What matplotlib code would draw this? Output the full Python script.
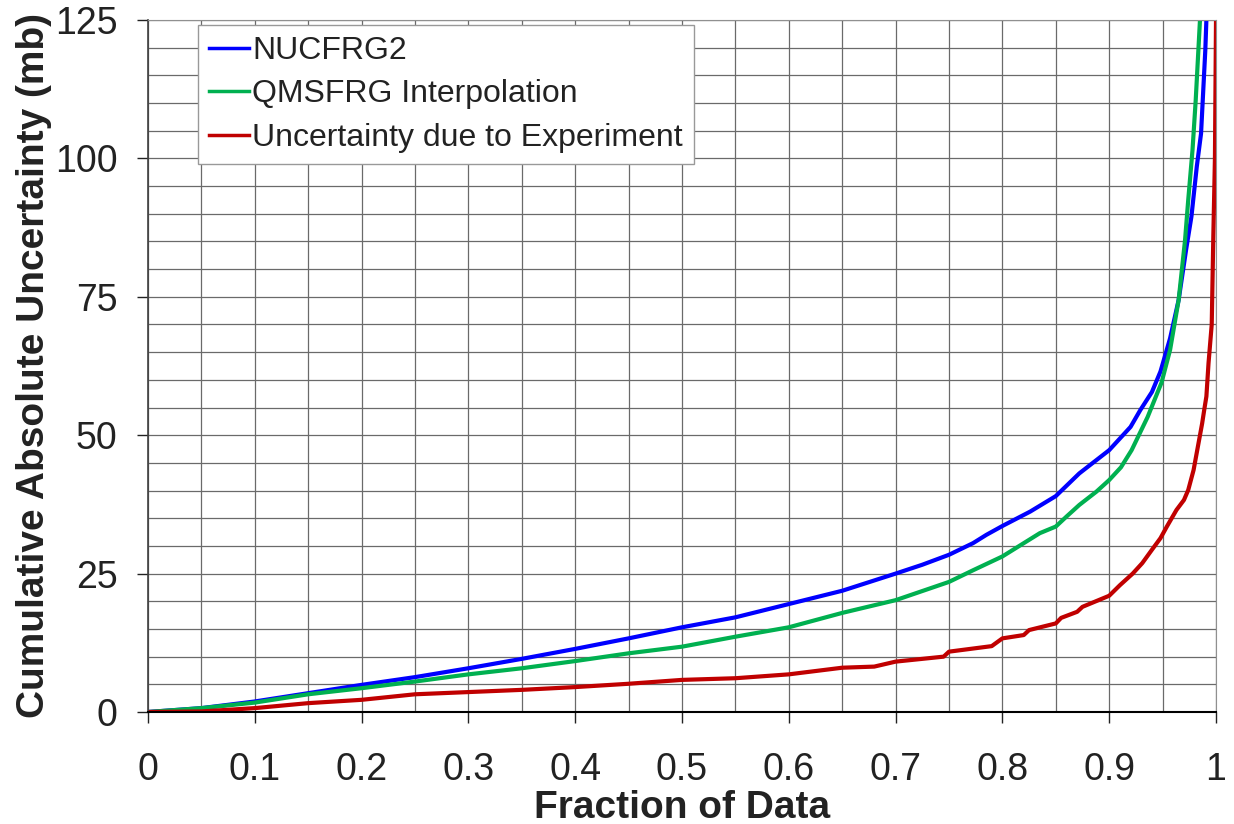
import numpy as np
import matplotlib
matplotlib.use("Agg")
import matplotlib.pyplot as plt
from matplotlib.ticker import MultipleLocator

plt.rcParams['font.family'] = ['Liberation Sans', 'DejaVu Sans']

# NUCFRG2
nuc_x = [0, 0.05, 0.1, 0.15, 0.2, 0.25, 0.3, 0.35, 0.4, 0.45, 0.5, 0.55, 0.6, 0.65,
         0.7, 0.725, 0.75, 0.7725, 0.785, 0.8, 0.826, 0.85, 0.872, 0.9, 0.92, 0.929,
         0.94, 0.948, 0.957, 0.965, 0.972, 0.977, 0.982, 0.986, 0.99, 0.991]
nuc_y = [0, 0.7, 1.9, 3.4, 4.9, 6.3, 7.9, 9.6, 11.4, 13.3, 15.3, 17.1, 19.5, 21.9,
         25.0, 26.6, 28.4, 30.5, 32.0, 33.6, 36.2, 39.0, 43.1, 47.3, 51.5, 54.5,
         57.8, 61.5, 67.5, 74.4, 83.5, 89.5, 98.5, 104.5, 119.6, 125]

# QMSFRG Interpolation
qms_x = [0, 0.05, 0.1, 0.15, 0.2, 0.25, 0.3, 0.35, 0.4, 0.45, 0.5, 0.55, 0.6, 0.65,
         0.7, 0.75, 0.7725, 0.8, 0.82, 0.835, 0.85, 0.86, 0.872, 0.888, 0.9, 0.911,
         0.921, 0.936, 0.949, 0.957, 0.965, 0.971, 0.974, 0.978, 0.981, 0.985]
qms_y = [0, 0.7, 1.7, 3.2, 4.3, 5.5, 6.8, 7.9, 9.2, 10.6, 11.8, 13.6, 15.3, 17.9,
         20.2, 23.5, 25.6, 28.1, 30.5, 32.3, 33.5, 35.3, 37.4, 39.8, 41.9, 44.2,
         47.3, 53.3, 59.5, 65.4, 74.4, 85.2, 92.5, 101.5, 110.5, 125]

# Uncertainty due to Experiment
exp_x = [0, 0.05, 0.1, 0.15, 0.2, 0.25, 0.3, 0.35, 0.4, 0.45, 0.5, 0.55, 0.6, 0.65,
         0.68, 0.7, 0.745, 0.75, 0.79, 0.8, 0.82, 0.825, 0.85, 0.855, 0.87, 0.875,
         0.9, 0.91, 0.922, 0.931, 0.94, 0.948, 0.954, 0.963, 0.97, 0.974, 0.979,
         0.983, 0.987, 0.989, 0.991, 0.993, 0.996, 0.9975, 0.999, 1.0]
exp_y = [0, 0.1, 0.7, 1.6, 2.2, 3.2, 3.6, 4.0, 4.5, 5.1, 5.8, 6.1, 6.8, 8.0,
         8.2, 9.1, 10.0, 10.9, 11.9, 13.3, 13.9, 14.8, 16.0, 17.0, 18.1, 19.0,
         21.0, 22.9, 25.0, 26.9, 29.3, 31.4, 33.5, 36.5, 38.3, 40.1, 43.7,
         47.9, 52.1, 54.6, 57.0, 63.0, 70.0, 86.0, 100.0, 125]

labels = ["NUCFRG2", "QMSFRG Interpolation", "Uncertainty due to Experiment"]
colors = ["#0000ff", "#00b050", "#c00000"]
xtick_vals = np.arange(0, 1.01, 0.1)
xtick_text = ["0", "0.1", "0.2", "0.3", "0.4", "0.5", "0.6", "0.7", "0.8", "0.9", "1"]

fig = plt.figure(figsize=(12.34, 8.24), dpi=100)
ax = fig.add_axes([148 / 1234, 112 / 824, 1068 / 1234, 692 / 824])

ax.plot(nuc_x, nuc_y, color=colors[0], lw=3, label=labels[0])
ax.plot(qms_x, qms_y, color=colors[1], lw=3, label=labels[1])
ax.plot(exp_x, exp_y, color=colors[2], lw=3, label=labels[2])

ax.set_xlim(0, 1)
ax.set_ylim(0, 125)
ax.set_xticks(xtick_vals)
ax.set_xticklabels(xtick_text)
ax.xaxis.set_minor_locator(MultipleLocator(0.05))
ax.yaxis.set_major_locator(MultipleLocator(25))
ax.yaxis.set_minor_locator(MultipleLocator(5))

ax.grid(which='both', color='#6a6a6a', lw=0.9)
ax.set_axisbelow(True)

ax.tick_params(axis='x', which='major', direction='out', length=8, width=1,
               labelsize=27, pad=21, colors='#222222')
ax.tick_params(axis='y', which='major', direction='out', length=8, width=1,
               labelsize=27, pad=14, colors='#222222')
ax.tick_params(which='minor', length=0)

for s in ['top', 'right']:
    ax.spines[s].set_color('#909090')
ax.spines['left'].set_color('#404040')
ax.spines['bottom'].set_color('black')
ax.spines['left'].set_linewidth(1.2)
ax.spines['bottom'].set_linewidth(1.5)

ax.set_xlabel("Fraction of Data", fontsize=28, fontweight='bold', color='#222222', labelpad=1)
ax.set_ylabel("Cumulative Absolute Uncertainty (mb)", fontsize=28, fontweight='bold',
              color='#222222', labelpad=2)

leg = ax.legend(loc='upper left', bbox_to_anchor=(0.0468, 0.993), borderaxespad=0,
                fontsize=23, fancybox=False, framealpha=1, edgecolor='#999999',
                handlelength=1.25, handletextpad=0.1, labelspacing=0.42,
                borderpad=0.35)
for t in leg.get_texts():
    t.set_color('#222222')
for ln in leg.get_lines():
    ln.set_linewidth(2.5)

fig.savefig("out.png", dpi=100)
